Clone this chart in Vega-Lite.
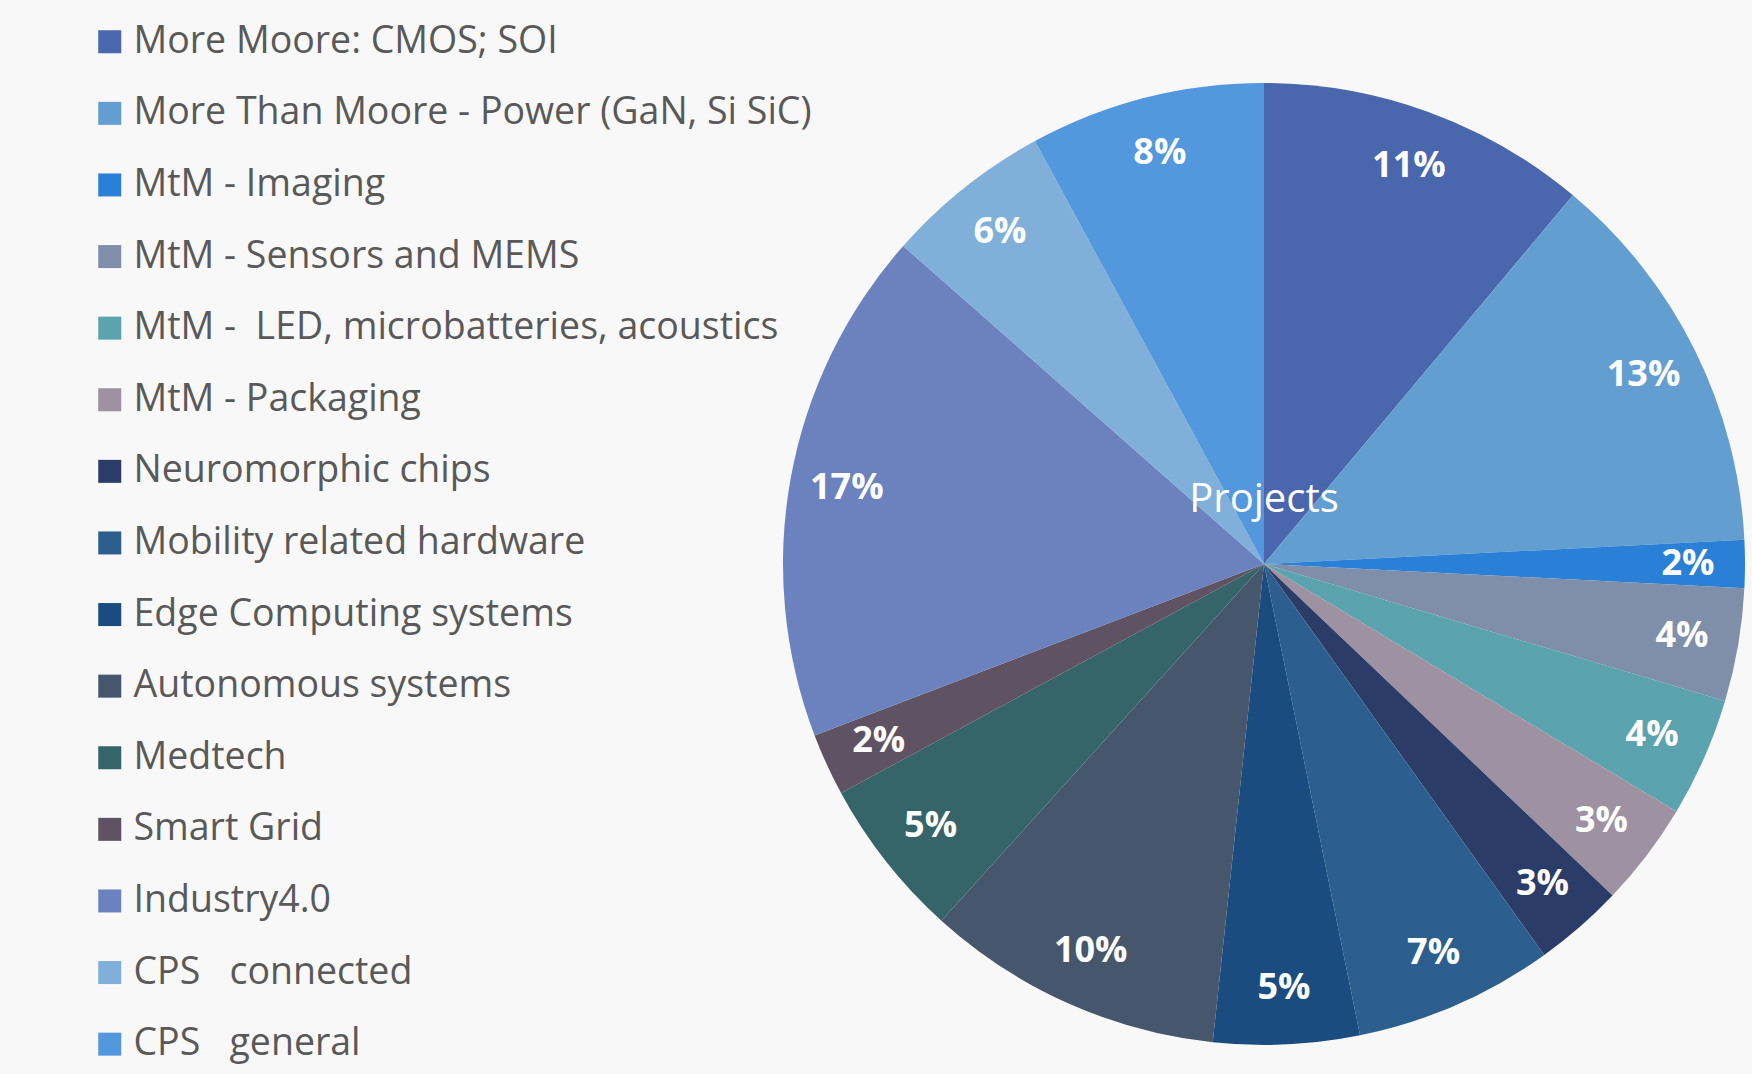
{
  "$schema": "https://vega.github.io/schema/vega-lite/v6.json",
  "width": 976,
  "height": 1020,
  "autosize": {"type": "none"},
  "padding": {"left": 776, "top": 54, "right": 0, "bottom": 0},
  "background": "#f8f8f8",
  "config": {"view": {"stroke": null}},
  "data": {
    "values": [
      {"idx": 1, "category": "More Moore: CMOS; SOI", "value": 11.1, "label": "11%"},
      {"idx": 2, "category": "More Than Moore - Power (GaN, Si SiC)", "value": 13.1, "label": "13%"},
      {"idx": 3, "category": "MtM - Imaging", "value": 1.6, "label": "2%"},
      {"idx": 4, "category": "MtM - Sensors and MEMS", "value": 3.8, "label": "4%"},
      {"idx": 5, "category": "MtM -\u00a0 LED, microbatteries, acoustics", "value": 4.0, "label": "4%"},
      {"idx": 6, "category": "MtM - Packaging", "value": 3.5, "label": "3%"},
      {"idx": 7, "category": "Neuromorphic chips", "value": 3.0, "label": "3%"},
      {"idx": 8, "category": "Mobility related hardware", "value": 6.7, "label": "7%"},
      {"idx": 9, "category": "Edge Computing systems", "value": 4.9, "label": "5%"},
      {"idx": 10, "category": "Autonomous systems", "value": 10.0, "label": "10%"},
      {"idx": 11, "category": "Medtech", "value": 5.4, "label": "5%"},
      {"idx": 12, "category": "Smart Grid", "value": 2.1, "label": "2%"},
      {"idx": 13, "category": "Industry4.0", "value": 17.3, "label": "17%"},
      {"idx": 14, "category": "CPS\u00a0\u00a0 connected", "value": 5.6, "label": "6%"},
      {"idx": 15, "category": "CPS\u00a0\u00a0 general", "value": 7.9, "label": "8%"}
    ]
  },
  "layer": [
    {
      "mark": {"type": "arc", "outerRadius": 481},
      "encoding": {
        "theta": {"field": "value", "type": "quantitative", "stack": true},
        "order": {"field": "idx", "type": "quantitative"},
        "color": {
          "field": "category",
          "type": "nominal",
          "sort": null,
          "scale": {
            "domain": [
              "More Moore: CMOS; SOI",
              "More Than Moore - Power (GaN, Si SiC)",
              "MtM - Imaging",
              "MtM - Sensors and MEMS",
              "MtM -\u00a0 LED, microbatteries, acoustics",
              "MtM - Packaging",
              "Neuromorphic chips",
              "Mobility related hardware",
              "Edge Computing systems",
              "Autonomous systems",
              "Medtech",
              "Smart Grid",
              "Industry4.0",
              "CPS\u00a0\u00a0 connected",
              "CPS\u00a0\u00a0 general"
            ],
            "range": ["#4A67AD", "#639ED0", "#2A7FD6", "#7F8FA9", "#5BA3AE", "#9E91A2", "#2C3C68", "#2D5F8E", "#1B4C80", "#46566D", "#356569", "#5E5263", "#6B82BE", "#80AFDA", "#5398DC"]
          },
          "legend": {
            "title": null,
            "orient": "none",
            "legendX": -685,
            "legendY": -31,
            "symbolType": "square",
            "symbolSize": 529,
            "symbolStrokeWidth": 0,
            "symbolOpacity": 1,
            "labelFont": "Open Sans",
            "labelFontSize": 37.5,
            "labelColor": "#595959",
            "labelLimit": 0,
            "labelOffset": 5,
            "rowPadding": 32.6,
            "padding": 0
          }
        }
      }
    },
    {
      "mark": {"type": "text", "radius": 424, "fill": "white", "fontWeight": "bold", "fontSize": 36, "font": "Open Sans", "align": "center", "baseline": "middle"},
      "encoding": {
        "theta": {"field": "value", "type": "quantitative", "stack": true},
        "order": {"field": "idx", "type": "quantitative"},
        "text": {"field": "label", "type": "nominal"}
      }
    },
    {
      "data": {"values": [{"t": "Projects"}]},
      "mark": {"type": "text", "fill": "white", "fontSize": 40, "font": "Open Sans", "align": "center", "baseline": "alphabetic", "dy": -52},
      "encoding": {"text": {"field": "t", "type": "nominal"}}
    }
  ]
}
